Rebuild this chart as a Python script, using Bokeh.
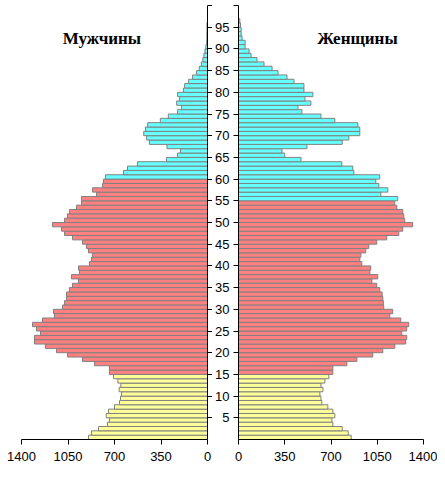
from bokeh.plotting import figure
from bokeh.models import Range1d, FixedTicker, Label, ColumnDataSource
from bokeh.layouts import row
from bokeh.embed import file_html
from bokeh.resources import INLINE

# Population by single year of age (thousands), ages 0..N
men = [896, 873, 820, 753, 738, 762, 745, 700, 662, 655,
       647, 665, 652, 675, 707, 738, 738, 851, 941, 1054,
       1137, 1220, 1302, 1302, 1257, 1287, 1317, 1242, 1152, 1159,
       1091, 1076, 1061, 1061, 1039, 1016, 971, 1024, 963, 971,
       888, 873, 866, 896, 911, 941, 1016, 1076, 1099, 1167,
       1076, 1054, 1039, 986, 948, 948, 835, 866, 790, 783,
       768, 632, 602, 527, 309, 226, 203, 305, 437, 458,
       480, 467, 450, 355, 295, 225, 195, 232, 210, 225,
       180, 172, 142, 112, 82, 62, 46, 35, 27, 19,
       12, 6, 5, 5, 4, 4]
women = [853, 830, 785, 714, 707, 729, 714, 676, 631, 624,
         616, 639, 624, 654, 684, 714, 714, 820, 896, 1016,
         1092, 1183, 1265, 1273, 1235, 1273, 1288, 1228, 1145, 1167,
         1099, 1096, 1092, 1087, 1069, 1046, 1009, 1054, 994, 1001,
         933, 918, 926, 963, 986, 1046, 1122, 1213, 1243, 1318,
         1258, 1250, 1243, 1198, 1182, 1205, 1077, 1130, 1062, 1039,
         1069, 873, 865, 782, 473, 350, 329, 518, 785, 835,
         918, 918, 903, 729, 624, 480, 450, 548, 503, 563,
         495, 495, 420, 367, 299, 254, 193, 140, 95, 80,
         50, 50, 27, 20, 20, 15, 10]

# age-group boundaries: children < 15, working age up to retirement age
child_limit = 15
retire_men = 60
retire_women = 55
x_ticks = [0, 350, 700, 1050, 1400]
age_ticks = list(range(5, 101, 5))
title_men = "Мужчины"
title_women = "Женщины"

YELLOW = "#FFFF99"
RED = "#FF8080"
CYAN = "#66FFFF"
EDGE = "#808080"
FONT = "Liberation Sans"


def make_source(vals, retire):
    ys, vs, cs = [], [], []
    for age, v in enumerate(vals):
        ys.append(age + 0.5)
        vs.append(v)
        if age < child_limit:
            cs.append(YELLOW)
        elif age < retire:
            cs.append(RED)
        else:
            cs.append(CYAN)
    return ColumnDataSource(dict(y=ys, v=vs, c=cs))


H = 469


def style_x(p):
    ax = p.xaxis[0]
    ax.ticker = FixedTicker(ticks=x_ticks)
    ax.major_tick_out = 5
    ax.major_tick_in = 0
    ax.minor_tick_out = 0
    ax.minor_tick_in = 0
    ax.major_label_standoff = 7
    ax.major_label_text_font = FONT
    ax.major_label_text_font_size = "13px"
    ax.major_label_text_color = "black"
    ax.axis_line_color = "black"
    ax.major_tick_line_color = "black"


left = figure(width=212, height=H, x_range=Range1d(1400, 0), y_range=Range1d(0, 100),
              output_backend="svg", toolbar_location=None, y_axis_location="right",
              min_border_left=21, min_border_right=5, min_border_top=5, min_border_bottom=30)
right = figure(width=225, height=H, x_range=Range1d(0, 1400), y_range=Range1d(0, 100),
               output_backend="svg", toolbar_location=None, y_axis_location="left",
               min_border_left=26, min_border_right=14, min_border_top=5, min_border_bottom=30)

for p in (left, right):
    p.grid.visible = False
    p.outline_line_color = None
    p.background_fill_color = "white"
    p.border_fill_color = "white"
    style_x(p)
    ya = p.yaxis[0]
    ya.ticker = FixedTicker(ticks=age_ticks)
    ya.major_tick_out = 5
    ya.major_tick_in = 0
    ya.minor_tick_out = 0
    ya.minor_tick_in = 0
    ya.axis_line_color = "black"
    ya.major_tick_line_color = "black"

ly = left.yaxis[0]
ly.major_label_overrides = {t: "" for t in age_ticks}
ly.major_label_standoff = 0
ly.major_label_text_font_size = "1px"

ry = right.yaxis[0]
ry.major_label_overrides = {100: ""}
ry.major_label_standoff = 4
ry.major_label_text_font = FONT
ry.major_label_text_font_size = "13px"
ry.major_label_text_color = "black"

src_m = make_source(men, retire_men)
src_w = make_source(women, retire_women)
left.hbar(y="y", height=1, left=0, right="v", fill_color="c", line_color=EDGE,
          line_width=1, source=src_m)
right.hbar(y="y", height=1, left=0, right="v", fill_color="c", line_color=EDGE,
           line_width=1, source=src_w)

left.add_layout(Label(x=795, y=92.4, text=title_men, text_font="Liberation Serif",
                      text_font_size="17px", text_font_style="bold", text_align="center",
                      text_baseline="middle", text_color="black"))
right.add_layout(Label(x=900, y=92.4, text=title_women, text_font="Liberation Serif",
                       text_font_size="17px", text_font_style="bold", text_align="center",
                       text_baseline="middle", text_color="black"))

layout = row(left, right)
open("out.html", "w").write(file_html(layout, INLINE))
